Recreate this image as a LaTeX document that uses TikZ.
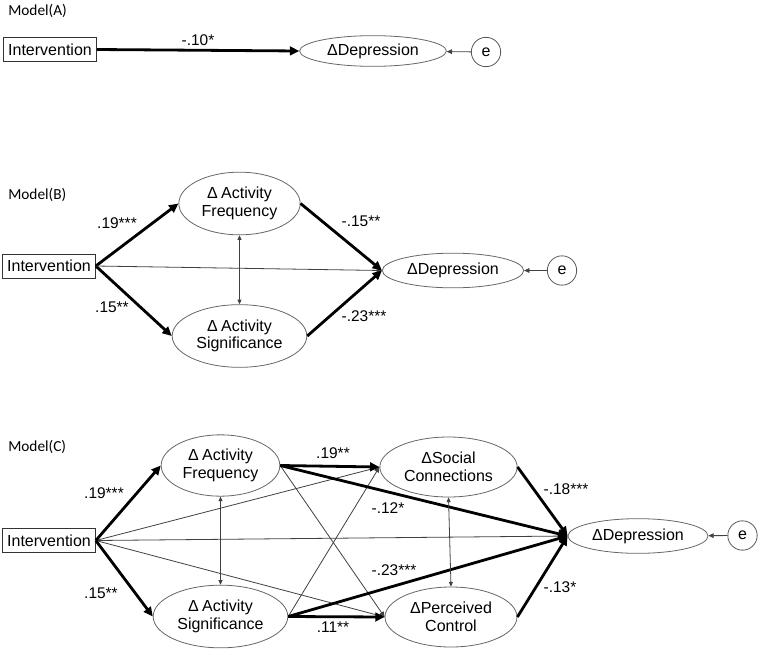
\documentclass[tikz,border=0pt]{standalone}
\usepackage{fontspec}
\setmainfont{Liberation Sans}
\newfontfamily\calfont{Carlito}
\usetikzlibrary{arrows.meta,shapes.geometric}
\begin{document}
\begin{tikzpicture}[x=0.75pt,y=-0.75pt,
  every node/.style={font=\fontsize{12}{13.2}\selectfont, inner sep=0pt},
  ell/.style={ellipse, draw=black!60, line width=0.6pt, align=center},
  box/.style={rectangle, draw=black!80, line width=0.7pt, minimum width=69.5pt, minimum height=18pt},
  errc/.style={circle, draw=black!65, line width=0.6pt, minimum size=22pt},
  mlab/.style={font=\calfont\fontsize{11.5}{13}\selectfont, anchor=west},
  coef/.style={font=\fontsize{11.6}{13}\selectfont},
  thk/.style={line width=2.1pt, -{Triangle[length=7pt,width=6.5pt]}},
  thn/.style={line width=0.6pt, draw=black!75, -{Triangle[length=4pt,width=3.5pt]}},
  dbl/.style={line width=0.6pt, draw=black!75, {Triangle[length=3.5pt,width=3pt]}-{Triangle[length=3.5pt,width=3pt]}},
]
\useasboundingbox (0,0) rectangle (760,650);

% ---------------- Model A ----------------
\node[mlab] (mA) at (8,11) {Model(A)};
\node[box] (iA) at (50,49.5) {Intervention};
\node[ell, minimum width=110pt, minimum height=23pt] (dA) at (373,51) {ΔDepression};
\node[errc] (eA) at (486,52) {e};
\draw[thk] (iA.east) -- (dA.west);
\draw[thn] (eA) -- (dA);
\node[coef] (lA) at (198,40) {-.10*};

% ---------------- Model B ----------------
\node[mlab] (mB) at (8,195) {Model(B)};
\node[box] (iB) at (49,266) {Intervention};
\node[ell, minimum width=91pt, minimum height=47pt] (fB) at (239.5,203.5) {Δ\kern2.5pt Activity\\Frequency};
\node[ell, minimum width=101pt, minimum height=47pt] (sB) at (239.5,336) {Δ\kern2.5pt Activity\\Significance};
\node[ell, minimum width=106pt, minimum height=26pt] (dB) at (453,270.5) {ΔDepression};
\node[errc] (eB) at (562,270.5) {e};
\draw[thk] (iB.east) -- (fB.west);
\draw[thk] (iB.east) -- (sB.west);
\draw[thn] (iB.east) -- (dB.west);
\draw[thk] (fB.east) -- (dB.west);
\draw[thk] (sB.east) -- (dB.west);
\draw[dbl] (fB.south) -- (sB.north);
\draw[thn] (eB) -- (dB);
\node[coef] (lB1) at (117,223) {.19***};
\node[coef] (lB2) at (112,307) {.15**};
\node[coef] (lB3) at (361,221) {-.15**};
\node[coef] (lB4) at (364,316) {-.23***};

% ---------------- Model C ----------------
\node[mlab] (mC) at (8,447) {Model(C)};
\node[box] (iC) at (49,540.5) {Intervention};
\node[ell, minimum width=89pt, minimum height=46pt] (fC) at (220.5,465.5) {Δ\kern2.5pt Activity\\Frequency};
\node[ell, minimum width=101pt, minimum height=47pt] (sC) at (220.5,616.5) {Δ\kern2.5pt Activity\\Significance};
\node[ell, minimum width=103pt, minimum height=45pt] (scC) at (448.5,467) {ΔSocial\\Connections};
\node[ell, minimum width=99pt, minimum height=45pt] (pC) at (451,617) {ΔPerceived\\Control};
\node[ell, minimum width=105pt, minimum height=26pt] (dC) at (638,536) {ΔDepression};
\node[errc] (eC) at (742.5,535.5) {e};

\draw[thn] (iC.east) -- (scC.west);
\draw[thn] (iC.east) -- (dC.west);
\draw[thn] (iC.east) -- (pC.west);
\draw[thn] (fC.east) -- (pC.west);
\draw[thn] (sC.east) -- (scC.west);
\draw[thk] (iC.east) -- (fC.west);
\draw[thk] (iC.east) -- (sC.west);
\draw[thk] (fC.east) -- (scC.west);
\draw[thk] (fC.east) -- (dC.west);
\draw[thk] (sC.east) -- (dC.west);
\draw[thk] (sC.east) -- (pC.west);
\draw[thk] (scC.east) -- (dC.west);
\draw[thk] (pC.east) -- (dC.west);
\draw[dbl] (fC.south) -- (sC.north);
\draw[dbl] (scC.south) -- (pC.north);
\draw[thn] (eC) -- (dC);

\node[coef] (lC1) at (104,493) {.19***};
\node[coef] (lC2) at (101,593) {.15**};
\node[coef] (lC3) at (333,453) {.19**};
\node[coef] (lC4) at (388,508) {-.12*};
\node[coef] (lC5) at (394,570) {-.23***};
\node[coef] (lC6) at (333,627) {.11**};
\node[coef] (lC7) at (566,489) {-.18***};
\node[coef] (lC8) at (560,587) {-.13*};
\end{tikzpicture}
\end{document}
